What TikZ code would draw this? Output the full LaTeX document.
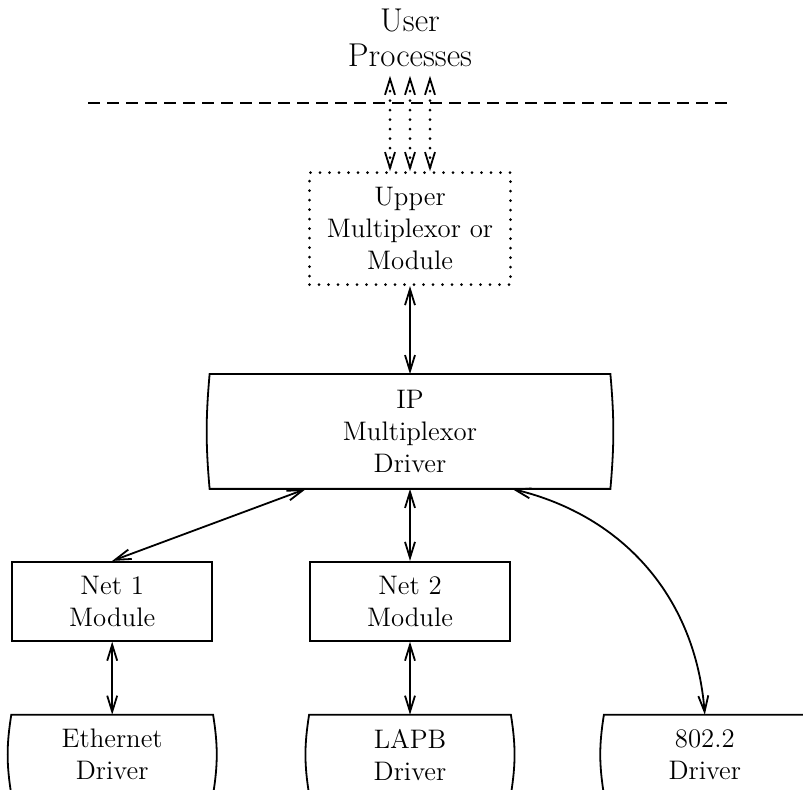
\documentclass[tikz,border=0pt]{standalone}
\usepackage{tikz}
\usetikzlibrary{shapes,arrows,arrows.meta,positioning}

\begin{document}
\begin{tikzpicture}[x=0.5pt, y=-0.5pt, line width=0.9pt,
  node distance=36pt,
  >={Straight Barb[length=8pt,width=5pt,line width=0.9pt]},
  txt/.style={align=center, inner sep=0pt, font=\fontsize{13.4}{16}\selectfont},
  modbox/.style={txt, rectangle, draw, minimum width=100pt, minimum height=39.5pt},
  drvbox/.style={txt, rectangle, minimum width=100pt, minimum height=39pt},
  dotline/.style={line width=1.5pt, line cap=round, dash pattern=on 0pt off 4.75pt}]
\useasboundingbox (0,0) rectangle (803,790);

\node (ip) [txt, rectangle, minimum width=199.5pt, minimum height=56.5pt] at (410,431.5) {IP\\Multiplexor\\Driver};
\node (upper) [txt, rectangle, dotline, draw, minimum width=100.5pt, minimum height=56pt, above=44pt of ip] {Upper\\Multiplexor or\\Module};
\node (user) [align=center, inner sep=4pt, font=\fontsize{16.5}{17.5}\selectfont] at (410,38) {User\\Processes};

\node (net2) [modbox, below=of ip] {Net 2\\Module};
\node (net1) [modbox, left=48pt of net2] {Net 1\\Module};
\node (lapb) [drvbox, below=36.5pt of net2] {LAPB\\Driver};
\node (eth) [drvbox, below=36.5pt of net1] {Ethernet\\Driver};
\node (llc) [drvbox, right=46.5pt of lapb] {802.2\\Driver};

% IP box and driver outlines (curved sides)
\draw (ip.south west) to[bend left=5] (ip.north west) -- (ip.north east) to[bend left=5] (ip.south east) -- cycle;
\foreach \d in {eth,lapb,llc}
  \draw (\d.south west) to[bend left=9] (\d.north west) -- (\d.north east) to[bend left=9] (\d.south east);

% user/kernel boundary
\coordinate (dashl) at (88,103);
\coordinate (dashr) at (730,103);
\draw [dash pattern=on 6pt off 3.5pt] (dashl) -- (dashr);

\foreach \s in {-10pt,0pt,10pt}
  \draw [dotline, <->] ([xshift=\s]upper.north) -- ([xshift=\s]user.south);

\draw [<->] (upper) -- (ip);
\draw [<->] ([xshift=-52pt]ip.south) -- (net1.north);
\draw [<->] (ip) -- (net2);
\draw [<->] ([xshift=51pt]ip.south) to[bend left=36] (llc.north);
\draw [<->] (net1) -- (eth.north);
\draw [<->] (net2) -- (lapb.north);
\end{tikzpicture}
\end{document}
